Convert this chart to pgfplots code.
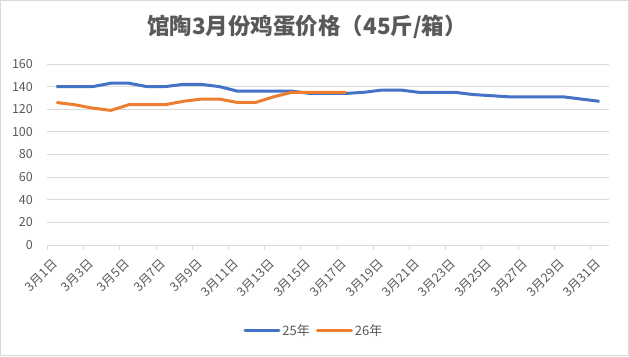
\documentclass[border=0pt]{standalone}
\usepackage{pgfplots}
\pgfplotsset{compat=1.18}
\usepackage{fontspec}
\setmainfont{Noto Sans CJK SC}
\definecolor{txt}{HTML}{595959}
\definecolor{gridc}{HTML}{D9D9D9}
\definecolor{b25}{HTML}{4472C4}
\definecolor{o26}{HTML}{ED7D31}
\begin{document}
\begin{tikzpicture}
\draw[gridc, line width=1pt] (0.5pt,0.5pt) rectangle (628.5pt,355.5pt);
\useasboundingbox (0pt,0pt) rectangle (629pt,356pt);
\node[txt, font=\fontsize{22.5}{26}\selectfont\bfseries] at (307pt,329pt) {馆陶3月份鸡蛋价格（45斤/箱）};
\begin{axis}[
  at={(47.4pt,111pt)}, anchor=south west, scale only axis,
  width=561.1pt, height=181pt,
  xmin=0.5, xmax=31.5, ymin=0, ymax=160,
  ytick={0,20,...,160},
  xtick={0.5,2.5,...,30.5}, xticklabels={},
  major tick length=5pt, tick align=outside,
  xtick style={gridc, line width=0.75pt},
  extra x ticks={1,3,...,31},
  extra x tick labels={3月1日,3月3日,3月5日,3月7日,3月9日,3月11日,3月13日,3月15日,3月17日,3月19日,3月21日,3月23日,3月25日,3月27日,3月29日,3月31日},
  extra x tick style={major tick length=0pt, grid=none},
  ymajorgrids, xmajorgrids=false,
  grid style={gridc, line width=0.75pt},
  axis x line*=bottom, axis y line*=left,
  x axis line style={gridc, line width=0.75pt, -},
  y axis line style={draw=none},
  ytick style={draw=none},
  tick label style={txt, font=\fontsize{12.5}{14}\selectfont},
  /pgf/number format/assume math mode=true,
  yticklabel style={xshift=-6pt},
  xticklabel style={yshift=-14pt, xshift=1pt, rotate=45, anchor=east},
  legend style={at={(0.475,-0.473)}, anchor=center, draw=none, legend columns=2,
    font=\fontsize{13}{15}\selectfont, text=txt,
    /tikz/every even column/.append style={column sep=4pt}},
  legend image code/.code={\draw[#1, line width=3pt, line cap=round] (0pt,0pt) -- (34pt,0pt);},
]
\addplot[b25, line width=3pt, line join=round, mark=none] coordinates {
(1,140)(2,140)(3,140)(4,143)(5,143)(6,140)(7,140)(8,142)(9,142)(10,140)
(11,136)(12,136)(13,136)(14,136)(15,134)(16,134)(17,134)(18,135)(19,137)(20,137)
(21,135)(22,135)(23,135)(24,133)(25,132)(26,131)(27,131)(28,131)(29,131)(30,129)(31,127)};
\addlegendentry{25年}
\addplot[o26, line width=3pt, line join=round, mark=none] coordinates {
(1,126)(2,124)(3,121)(4,119)(5,124)(6,124)(7,124)(8,127)(9,129)(10,129)
(11,126)(12,126)(13,131)(14,135)(15,135)(16,135)(17,135)};
\addlegendentry{26年}
\end{axis}
\end{tikzpicture}
\end{document}
